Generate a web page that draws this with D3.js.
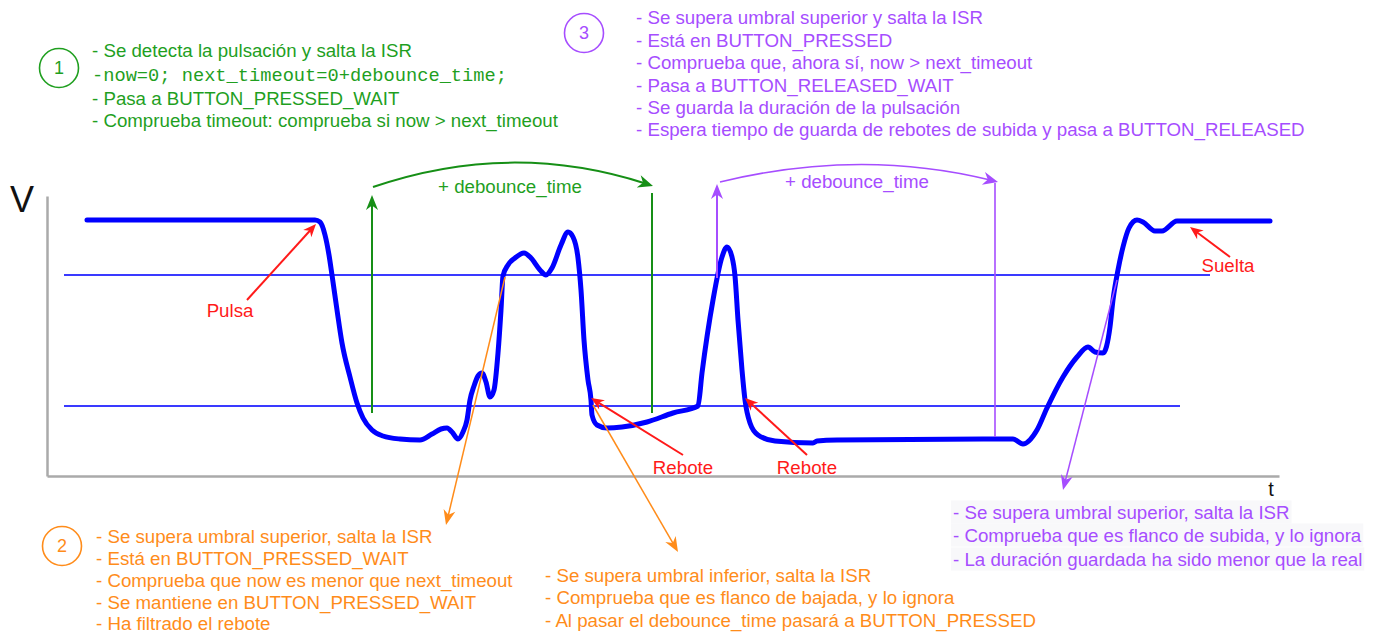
<!DOCTYPE html>
<html><head><meta charset="utf-8">
<script src="https://cdn.jsdelivr.net/npm/d3@7"></script>
<style>html,body{margin:0;padding:0;background:#fff;}svg{display:block;}</style>
</head><body>
<script>
// ---- data (time in arbitrary units, voltage in arbitrary units) ----
const timeVals = [40,268,273,278,282,285,290,295,303,310,316,325,336,353,373,385,394,400,405,411,416,420,423,427,431,435,439,443,447,451,454,456,461,468,477,484,493,499,505,514,521,526,531,534,537,541,544,545,550,560,575,600,626,651,655,666,675,680,685,688,691,695,698,703,711,728,766,770,790,966,976,990,1000,1016,1030,1041,1048,1056,1063,1066,1071,1076,1082,1090,1096,1108,1115,1130,1223];
const voltVals = [256,256,254,241,221,201,166,133,99,73,58,46,40,37,36,42,47,48,44,37,44,56,76,90,100,103,94,79,86,123,166,200,211,218,223,218,206,201,208,231,244,239,218,186,136,96,76,61,51,48,49,54,63,70,103,176,219,229,219,200,156,106,76,53,41,35,33,35,36,37,32,46,68,99,119,129,124,123,149,176,206,229,248,256,254,245,245,255,255];
const upperThreshold = 201;
const lowerThreshold = 70;
const thresholdSpans = [[17,1163],[17,1133]];

const green = "#1f9f1f", greenLine = "#168f16";
const purple = "#a64dff";
const orange = "#ff8c1a";
const red = "#ff1a1a";

const block1 = ["- Se detecta la pulsación y salta la ISR","-now=0; next_timeout=0+debounce_time;","- Pasa a BUTTON_PRESSED_WAIT","- Comprueba timeout: comprueba si now > next_timeout"];
const block2 = ["- Se supera umbral superior, salta la ISR","- Está en BUTTON_PRESSED_WAIT","- Comprueba que now es menor que next_timeout","- Se mantiene en BUTTON_PRESSED_WAIT","- Ha filtrado el rebote"];
const block3 = ["- Se supera umbral superior y salta la ISR","- Está en BUTTON_PRESSED","- Comprueba que, ahora sí, now > next_timeout","- Pasa a BUTTON_RELEASED_WAIT","- Se guarda la duración de la pulsación","- Espera tiempo de guarda de rebotes de subida y pasa a BUTTON_RELEASED"];
const block4 = ["- Se supera umbral inferior, salta la ISR","- Comprueba que es flanco de bajada, y lo ignora","- Al pasar el debounce_time pasará a BUTTON_PRESSED"];
const block5 = ["- Se supera umbral superior, salta la ISR","- Comprueba que es flanco de subida, y lo ignora","- La duración guardada ha sido menor que la real"];

const W = 1378, H = 633;
const FONT = "'Liberation Sans', Arial, sans-serif";
const FS = 18.7;
const svg = d3.select("body").append("svg").attr("width", W).attr("height", H);

const x = d3.scaleLinear().domain([0, 1232]).range([47, 1279]);
const y = d3.scaleLinear().domain([0, 280]).range([476, 196]);

// axes
svg.append("g").attr("transform", `translate(0,${y(0)})`)
  .call(d3.axisBottom(x).tickValues([]).tickSizeOuter(0))
  .call(g => g.select(".domain").attr("stroke", "#aaa").attr("stroke-width", 2.5));
svg.append("g").attr("transform", `translate(${x(0)},0)`)
  .call(d3.axisLeft(y).tickValues([]).tickSizeOuter(0))
  .call(g => g.select(".domain").attr("stroke", "#aaa").attr("stroke-width", 2.5));

svg.append("text").attr("x", 22).attr("y", 212).attr("text-anchor", "middle")
  .attr("font-family", FONT).attr("font-size", 36).attr("fill", "#111").text("V");
svg.append("text").attr("x", 1271).attr("y", 496).attr("text-anchor", "middle")
  .attr("font-family", FONT).attr("font-size", 20).attr("fill", "#111").text("t");

// thresholds
[upperThreshold, lowerThreshold].forEach((v, i) => {
  svg.append("line").attr("x1", x(thresholdSpans[i][0])).attr("x2", x(thresholdSpans[i][1]))
    .attr("y1", y(v)).attr("y2", y(v)).attr("stroke", "#3a3aff").attr("stroke-width", 2);
});

// waveform
const pts = timeVals.map((t, i) => [t, voltVals[i]]);
svg.append("path").datum(pts)
  .attr("d", d3.line().x(d => x(d[0])).y(d => y(d[1])).curve(d3.curveMonotoneX))
  .attr("fill", "none").attr("stroke", "#0000ff").attr("stroke-width", 5)
  .attr("stroke-linejoin", "round").attr("stroke-linecap", "round");

// helpers
function head(g, tip, dir, color, len, wid) {
  const [dx, dy] = dir; const L = Math.hypot(dx, dy); const ux = dx / L, uy = dy / L;
  const bx = tip[0] - ux * len, by = tip[1] - uy * len;
  const p1 = [bx - uy * wid / 2, by + ux * wid / 2], p2 = [bx + uy * wid / 2, by - ux * wid / 2];
  const notch = [tip[0] - ux * len * 0.7, tip[1] - uy * len * 0.7];
  g.append("path").attr("d", `M${tip}L${p1}L${notch}L${p2}Z`).attr("fill", color);
}
function arrow(tail, tip, color, sw, len, wid) {
  const a = [x(tail[0]), y(tail[1])], b = [x(tip[0]), y(tip[1])];
  const dir = [b[0] - a[0], b[1] - a[1]]; const L = Math.hypot(...dir);
  const e = [b[0] - dir[0] / L * len * 0.6, b[1] - dir[1] / L * len * 0.6];
  svg.append("line").attr("x1", a[0]).attr("y1", a[1]).attr("x2", e[0]).attr("y2", e[1])
    .attr("stroke", color).attr("stroke-width", sw);
  head(svg, b, dir, color, len, wid);
}
function vline(t, v0, v1, color, sw) {
  svg.append("line").attr("x1", x(t)).attr("x2", x(t)).attr("y1", y(v0)).attr("y2", y(v1))
    .attr("stroke", color).attr("stroke-width", sw);
}
function arc(s, c, e, color, sw) {
  const S = [x(s[0]), y(s[1])], C = [x(c[0]), y(c[1])], E = [x(e[0]), y(e[1])];
  const dir = [E[0] - C[0], E[1] - C[1]]; const L = Math.hypot(...dir);
  const E2 = [E[0] - dir[0] / L * 8, E[1] - dir[1] / L * 8];
  svg.append("path").attr("d", `M${S}Q${C} ${E2}`).attr("fill", "none").attr("stroke", color).attr("stroke-width", sw);
  head(svg, E, dir, color, 15, 13);
}
function label(t, v, txt, color) {
  svg.append("text").attr("x", x(t)).attr("y", y(v)).attr("dy", "0.35em").attr("text-anchor", "middle")
    .attr("font-family", FONT).attr("font-size", FS).attr("fill", color).text(txt);
}
function circleNum(cx, cy, n, color) {
  svg.append("circle").attr("cx", cx).attr("cy", cy).attr("r", 19.5).attr("fill", "none")
    .attr("stroke", color).attr("stroke-width", 1.6);
  svg.append("text").attr("x", cx).attr("y", cy).attr("dy", "0.35em").attr("text-anchor", "middle")
    .attr("font-family", FONT).attr("font-size", 18).attr("fill", color).text(n);
}
function block(lines, x0, ys, color, bg) {
  lines.forEach((s, i) => {
    const mono = s.startsWith("-now");
    const t = svg.append("text").attr("x", x0).attr("y", ys[i]).attr("dy", "0.35em")
      .attr("font-family", mono ? "'Liberation Mono', 'DejaVu Sans Mono', monospace" : FONT)
      .attr("font-size", mono ? 18.7 : FS).attr("fill", color).text(s);
    if (bg) {
      const w = t.node().getComputedTextLength();
      svg.insert("rect", () => t.node()).attr("x", x0 - 2).attr("y", ys[i] - 11.5).attr("width", w + 4).attr("height", 23).attr("fill", bg);
    }
  });
}

// green debounce annotation
arrow([325, 63], [325, 281], greenLine, 2, 15, 12);
vline(605, 63, 283, greenLine, 2);
arc([326, 289], [463, 336], [606, 290], greenLine, 2);
label(463, 290, "+ debounce_time", green);

// purple debounce annotation
arrow([670, 198], [670, 292], purple, 2, 15, 12);
vline(948, 39, 293, purple, 1.6);
arc([673, 294], [813, 328], [951, 294], purple, 1.6);
label(810, 295, "+ debounce_time", purple);

// red labels
arrow([200, 176], [269, 252], red, 2, 13, 11);
label(183, 166, "Pulsa", red);
arrow([636, 21], [544, 78], red, 2, 13, 11);
label(636, 9, "Rebote", red);
arrow([760, 21], [698, 78], red, 2, 13, 11);
label(760, 9, "Rebote", red);
arrow([1183, 219], [1143, 249], red, 2, 13, 11);
label(1181, 211, "Suelta", red);

// orange / purple pointers
arrow([458, 199], [399, -49], orange, 1.5, 15, 12);
arrow([546, 71], [631, -76], orange, 1.5, 15, 12);
arrow([1070, 196], [1016, -14], purple, 1.5, 15, 12);

// text blocks
circleNum(59, 68, "1", green);
block(block1, 92, [50, 74, 98, 120], green);
circleNum(62, 546, "2", orange);
block(block2, 96, [536, 558, 580, 602, 623], orange);
circleNum(584, 33, "3", purple);
block(block3, 636, [17, 40, 62, 85, 107, 129], purple);
block(block4, 545, [575, 597, 620], orange);
block(block5, 953, [512, 535, 559], purple, "#f8f8fa");
</script>
</body></html>
